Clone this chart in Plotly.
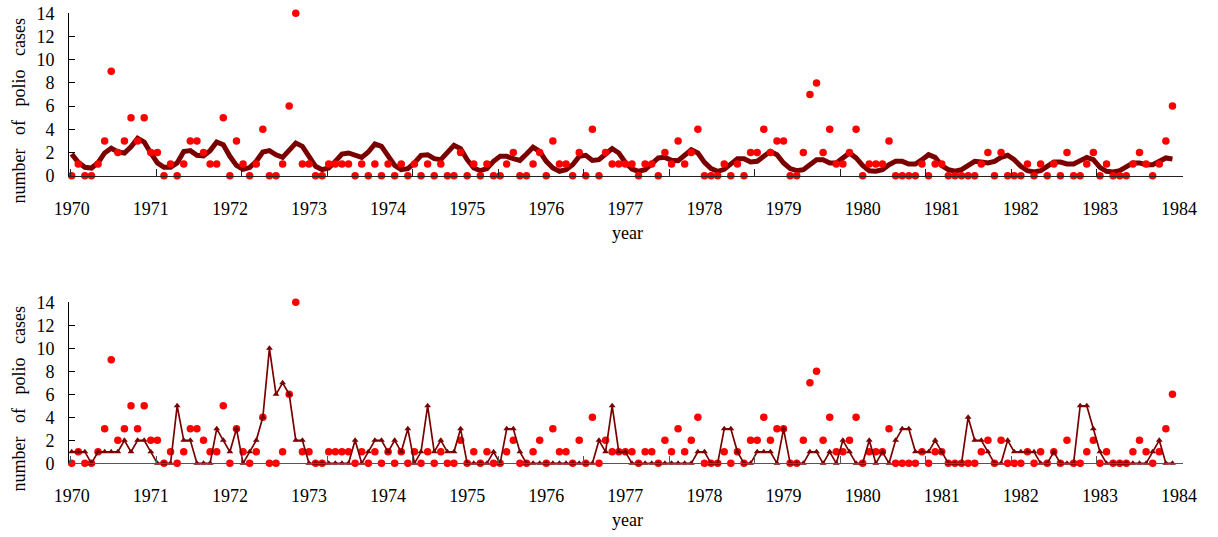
import numpy as np
import plotly.graph_objects as go

# Monthly polio cases, Jan 1970 - Dec 1983
cases = [0, 1, 0, 0, 1, 3, 9, 2, 3, 5, 3, 5,
         2, 2, 0, 1, 0, 1, 3, 3, 2, 1, 1, 5,
         0, 3, 1, 0, 1, 4, 0, 0, 1, 6, 14, 1,
         1, 0, 0, 1, 1, 1, 1, 0, 1, 0, 1, 0,
         1, 0, 1, 0, 1, 0, 1, 0, 1, 0, 0, 2,
         0, 1, 0, 1, 0, 0, 1, 2, 0, 0, 1, 2,
         0, 3, 1, 1, 0, 2, 0, 4, 0, 2, 1, 1,
         1, 1, 0, 1, 1, 0, 2, 1, 3, 1, 2, 4,
         0, 0, 0, 1, 0, 1, 0, 2, 2, 4, 2, 3,
         3, 0, 0, 2, 7, 8, 2, 4, 1, 1, 2, 4,
         0, 1, 1, 1, 3, 0, 0, 0, 0, 1, 0, 1,
         1, 0, 0, 0, 0, 0, 1, 2, 0, 2, 0, 0,
         0, 1, 0, 1, 0, 1, 0, 2, 0, 0, 1, 2,
         0, 1, 0, 0, 0, 1, 2, 1, 0, 1, 3, 6]

# Fitted mean (upper panel)
fitted = [1.87, 1.15, 0.72, 0.66, 1.12, 1.96, 2.37, 2.05, 1.95, 2.50, 3.22, 2.90,
          1.96, 1.10, 0.72, 0.72, 1.10, 2.08, 2.16, 1.76, 1.70, 2.16, 2.90, 2.67,
          1.67, 0.89, 0.55, 0.70, 1.24, 2.04, 2.16, 1.80, 1.58, 2.20, 2.82, 2.53,
          1.67, 0.81, 0.52, 0.66, 1.24, 1.87, 1.96, 1.76, 1.58, 2.04, 2.73, 2.53,
          1.76, 0.89, 0.52, 0.61, 1.10, 1.76, 1.81, 1.47, 1.38, 1.96, 2.62, 2.33,
          1.38, 0.66, 0.43, 0.61, 1.24, 1.67, 1.67, 1.47, 1.32, 1.87, 2.45, 2.10,
          1.24, 0.66, 0.38, 0.52, 0.95, 1.67, 1.76, 1.32, 1.38, 1.87, 2.33, 1.96,
          1.15, 0.58, 0.38, 0.52, 1.01, 1.53, 1.58, 1.32, 1.30, 1.81, 2.24, 1.96,
          1.15, 0.61, 0.38, 0.55, 1.01, 1.47, 1.47, 1.18, 1.24, 1.67, 2.10, 1.81,
          1.10, 0.61, 0.43, 0.52, 0.89, 1.38, 1.38, 1.10, 1.10, 1.58, 1.96, 1.53,
          0.89, 0.43, 0.38, 0.52, 0.95, 1.24, 1.24, 1.01, 1.01, 1.38, 1.81, 1.58,
          0.88, 0.52, 0.38, 0.52, 0.89, 1.24, 1.18, 1.10, 1.24, 1.58, 1.76, 1.38,
          0.81, 0.43, 0.32, 0.43, 0.81, 1.18, 1.18, 1.01, 1.01, 1.24, 1.58, 1.38,
          0.72, 0.38, 0.32, 0.43, 0.81, 1.10, 1.10, 0.95, 0.95, 1.24, 1.53, 1.44]

# Simulated series (lower panel)
simulated = [1, 1, 1, 0, 1, 1, 1, 1, 2, 1, 2, 2,
             1, 0, 0, 0, 5, 2, 2, 0, 0, 0, 3, 2,
             1, 3, 0, 1, 2, 4, 10, 6, 7, 6, 2, 2,
             0, 0, 0, 0, 0, 0, 0, 2, 0, 1, 2, 2,
             1, 2, 1, 3, 0, 1, 5, 1, 2, 1, 1, 3,
             0, 0, 0, 0, 1, 0, 3, 3, 1, 0, 0, 0,
             0, 0, 0, 0, 0, 0, 0, 0, 2, 1, 5, 1,
             1, 0, 0, 0, 0, 0, 0, 0, 0, 0, 0, 1,
             1, 0, 0, 3, 3, 1, 0, 0, 1, 1, 1, 0,
             3, 0, 0, 0, 1, 1, 0, 1, 0, 2, 1, 0,
             0, 2, 0, 1, 0, 2, 3, 3, 1, 1, 1, 2,
             1, 0, 0, 0, 4, 2, 2, 1, 0, 0, 2, 1,
             1, 1, 1, 0, 0, 1, 0, 0, 0, 5, 5, 3,
             1, 0, 0, 0, 0, 0, 0, 0, 1, 2, 0, 0]

year_labels = list(range(1970, 1985))
y_ticks = list(range(0, 15, 2))

start_year = 1970
t = start_year + np.arange(len(cases)) / 12

FONT = "Liberation Serif"
RED = "#ff0000"
DARK = "#7a0000"
X_RANGE = [1969.966, 1984.05]
frame_ticks = np.linspace(1969.985, 1984.04, 14)

fig = go.Figure()

# upper panel: fitted curve then observed counts
fig.add_trace(go.Scatter(x=t, y=fitted, mode="lines", line=dict(color=DARK, width=5),
                         xaxis="x", yaxis="y", cliponaxis=False, hoverinfo="skip"))
fig.add_trace(go.Scatter(x=t, y=cases, mode="markers", marker=dict(color=RED, size=7.5),
                         xaxis="x", yaxis="y", cliponaxis=False))
# lower panel: observed counts then simulated path
fig.add_trace(go.Scatter(x=t, y=cases, mode="markers", marker=dict(color=RED, size=7.5),
                         xaxis="x2", yaxis="y2", cliponaxis=False))
fig.add_trace(go.Scatter(x=t, y=simulated, mode="lines+markers",
                         line=dict(color=DARK, width=1.7),
                         marker=dict(symbol="triangle-up", size=6, color=DARK),
                         xaxis="x2", yaxis="y2", cliponaxis=False))
# frame axes (tick marks only)
fig.add_trace(go.Scatter(x=[], y=[], xaxis="x3", yaxis="y", showlegend=False))
fig.add_trace(go.Scatter(x=[], y=[], xaxis="x4", yaxis="y2", showlegend=False))

tickfont = dict(family=FONT, size=18, color="black")

def label_axis(anchor):
    return dict(anchor=anchor, range=X_RANGE, domain=[0, 1], tickmode="array",
                tickvals=year_labels, ticktext=[str(y) for y in year_labels],
                ticks="", showline=False, showgrid=False, zeroline=False,
                tickfont=tickfont, ticklabelstandoff=20)

def frame_axis(over, anchor, color):
    return dict(overlaying=over, anchor=anchor, range=X_RANGE, side="bottom",
                tickmode="array", tickvals=frame_ticks, showticklabels=False,
                ticks="inside", ticklen=7, tickcolor=color, tickwidth=1,
                showline=True, linecolor=color, linewidth=1,
                showgrid=False, zeroline=False)

def value_axis(anchor, domain):
    return dict(anchor=anchor, domain=domain, range=[0, 14], tickmode="array",
                tickvals=y_ticks, ticks="inside", ticklen=6, tickcolor="black",
                showline=True, linecolor="black", linewidth=1,
                showgrid=False, zeroline=False, tickfont=tickfont,
                ticklabelstandoff=10)

H = 537
W = 1218
ml, mr = 69, 35

def py(pix):
    return (H - pix) / H

def px(pix):
    return (pix - ml) / (W - ml - mr)

fig.update_layout(
    width=W, height=H, showlegend=False,
    margin=dict(l=ml, r=mr, t=0, b=0, pad=0),
    paper_bgcolor="white", plot_bgcolor="white",
    xaxis=label_axis("y"),
    xaxis2=label_axis("y2"),
    xaxis3=frame_axis("x", "y", "#222"),
    xaxis4=frame_axis("x2", "y2", "#555"),
    yaxis=value_axis("x", [py(175.7), py(13.3)]),
    yaxis2=value_axis("x2", [py(463.3), py(302.3)]),
)
for ax in ("xaxis", "xaxis2", "yaxis", "yaxis2"):
    fig.layout[ax].automargin = False

title_font = dict(family=FONT, size=18, color="black")
gap = "\u00a0\u00a0\u00a0"
ytitle = gap.join(["number", "of", "polio", "cases"])
for ycen in (111, 399):
    fig.add_annotation(text=ytitle, xref="paper", yref="paper", x=px(18.5), y=py(ycen),
                       textangle=-90, showarrow=False, font=title_font,
                       xanchor="center", yanchor="middle")
for ycen in (233, 520):
    fig.add_annotation(text="year", xref="paper", yref="paper", x=px(627), y=py(ycen),
                       showarrow=False, font=title_font, xanchor="center", yanchor="middle")

fig.write_html("out.html")
